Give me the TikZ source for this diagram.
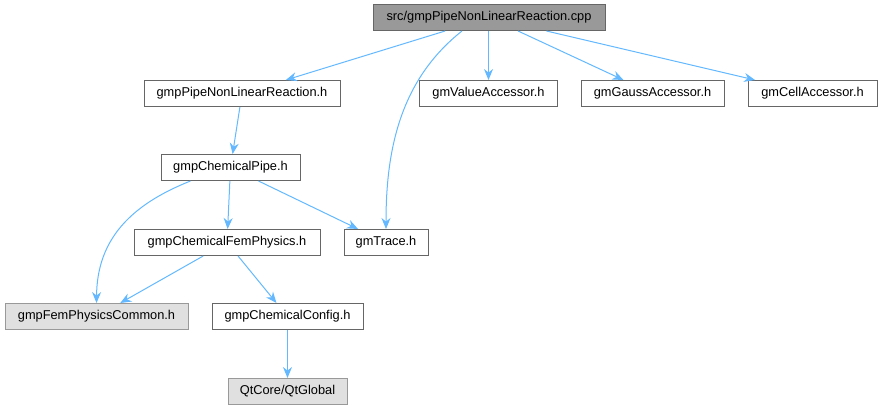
\documentclass[tikz,border=0pt]{standalone}
\usepackage{fontspec}
\setmainfont{Liberation Sans}
\usetikzlibrary{arrows.meta,positioning,calc}

\definecolor{edgeblue}{RGB}{99,184,255}
\definecolor{rootgray}{RGB}{153,153,153}
\definecolor{extgray}{RGB}{224,224,224}
\definecolor{boxline}{RGB}{102,102,102}

\begin{document}
\begin{tikzpicture}[
    x=1pt, y=-1pt,
    file/.style={rectangle, draw=boxline, line width=1pt, fill=white, minimum height=26pt, inner sep=0pt, font=\fontsize{12.8}{14}\selectfont},
    root/.style={file, fill=rootgray},
    extfile/.style={file, draw=rootgray, fill=extgray},
    arrow/.style={-{Stealth[length=11pt, width=9pt]}, line width=1pt, draw=edgeblue}
]
\useasboundingbox (0,0) rectangle (883,411);

% Source file (top)
\node[root, minimum width=232pt] (cpp) at (489,17.5) {src/gmpPipeNonLinearReaction.cpp};

% Direct includes
\node[file, minimum width=196pt] (pipenlr) at (242,93.5) {gmpPipeNonLinearReaction.h};
\node[file, minimum width=138pt] (valacc) at (488.5,93.5) {gmValueAccessor.h};
\node[file, minimum width=143pt] (gaussacc) at (652.5,93.5) {gmGaussAccessor.h};
\node[file, minimum width=129pt] (cellacc) at (812.5,93.5) {gmCellAccessor.h};

% Second level
\node[file, minimum width=139pt] (chempipe) at (230.5,167.5) {gmpChemicalPipe.h};
\node[file, minimum width=186pt] (chemfem) at (227,242.5) {gmpChemicalFemPhysics.h};
\node[file, minimum width=84pt] (trace) at (386,242.5) {gmTrace.h};

% Lower levels
\node[extfile, minimum width=183pt] (femcommon) at (96.5,316.5) {gmpFemPhysicsCommon.h};
\node[file, minimum width=151pt] (chemconfig) at (287.5,316.5) {gmpChemicalConfig.h};
\node[extfile, minimum width=119pt] (qtglobal) at (287.5,391.5) {QtCore/QtGlobal};

% Arrows - from source file
\draw[arrow] (cpp) -- (pipenlr);
\draw[arrow] (cpp.south -| valacc) -- (valacc);
\draw[arrow] (cpp) -- (gaussacc);
\draw[arrow] (cpp) -- (cellacc);
\draw[arrow] ([xshift=-27pt]cpp.south) .. controls (400,80) and (386,150) .. (trace.north);

% Arrows - headers
\draw[arrow] (pipenlr) -- (chempipe);
\draw[arrow] ([xshift=-40pt]chempipe.south) .. controls (130,205) and (97,240) .. (femcommon.north);
\draw[arrow] (chempipe) -- (chemfem);
\draw[arrow] (chempipe) -- (trace);
\draw[arrow] (chemfem) -- (femcommon);
\draw[arrow] (chemfem) -- (chemconfig);
\draw[arrow] (chemconfig) -- (qtglobal);

\end{tikzpicture}
\end{document}
